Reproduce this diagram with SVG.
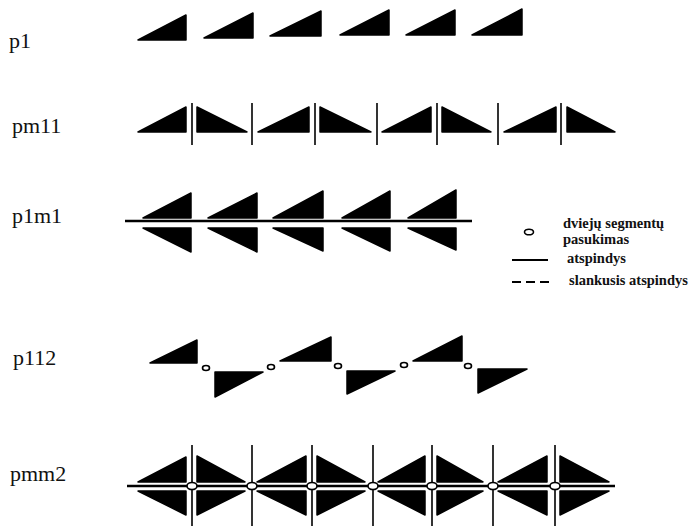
<svg xmlns="http://www.w3.org/2000/svg" width="692" height="526" viewBox="0 0 692 526">
<style>
.lbl{font-size:22px;fill:#111}
.leg{font-size:14.5px;font-weight:bold;fill:#111}
.t{fill:#000;stroke:#000;stroke-width:1.5;stroke-linejoin:round}
.m{stroke:#000;stroke-width:1.6;fill:none}
.h{stroke:#000;stroke-width:2.4;fill:none}
.lg{stroke:#000;stroke-width:2;fill:none}
.c{fill:#fff;stroke:#000;stroke-width:1.6}
</style>
<rect width="692" height="526" fill="#fff"/>

<g id="p1">
<text class="lbl" font-family="Liberation Serif, DejaVu Serif, serif" x="9" y="48">p1</text>
<polygon class="t" points="138,40 186,15 186,40"/>
<polygon class="t" points="204,38 253,13 253,38"/>
<polygon class="t" points="270,36 321,11 321,36"/>
<polygon class="t" points="340,35 389,10 389,35"/>
<polygon class="t" points="406,35 455,10 455,35"/>
<polygon class="t" points="472,35 522,9 522,35"/>
</g>

<g id="pm11">
<text class="lbl" font-family="Liberation Serif, DejaVu Serif, serif" x="12" y="133">pm11</text>
<polygon class="t" points="138,132 186,107 186,132"/>
<polygon class="t" points="197,107 247,132 197,132"/>
<polygon class="t" points="258,132 309,107 309,132"/>
<polygon class="t" points="320,107 371,132 320,132"/>
<polygon class="t" points="382,132 431,107 431,132"/>
<polygon class="t" points="442,107 491,132 442,132"/>
<polygon class="t" points="504,132 556,107 556,132"/>
<polygon class="t" points="567,107 615,132 567,132"/>
</g>

<g id="p1m1">
<text class="lbl" font-family="Liberation Serif, DejaVu Serif, serif" x="12" y="223">p1m1</text>
<polygon class="t" points="143,218 191,193 191,218"/>
<polygon class="t" points="208,218 257,193 257,218"/>
<polygon class="t" points="273,218 323,191 323,218"/>
<polygon class="t" points="342,218 390,191 390,218"/>
<polygon class="t" points="408,218 456,190 456,218"/>
<polygon class="t" points="143,228 191,228 191,252"/>
<polygon class="t" points="208,228 257,228 257,252"/>
<polygon class="t" points="273,228 323,228 323,251"/>
<polygon class="t" points="342,228 390,228 390,251"/>
<polygon class="t" points="408,228 456,228 456,250"/>
</g>

<g id="p112">
<text class="lbl" font-family="Liberation Serif, DejaVu Serif, serif" x="13" y="365">p112</text>
<polygon class="t" points="150,363 197,340 197,363"/>
<polygon class="t" points="215,372 263,372 215,397"/>
<polygon class="t" points="280,361 331,337 331,361"/>
<polygon class="t" points="347,371 395,371 347,394"/>
<polygon class="t" points="413,361 462,336 462,361"/>
<polygon class="t" points="478,369 527,369 478,393"/>
</g>

<g id="pmm2">
<text class="lbl" font-family="Liberation Serif, DejaVu Serif, serif" x="10" y="481">pmm2</text>
<polygon class="t" points="138,482 186,457 186,482"/>
<polygon class="t" points="257,482 306,456 306,482"/>
<polygon class="t" points="378,482 425,456 425,482"/>
<polygon class="t" points="498,482 547,456 547,482"/>
<polygon class="t" points="197,456 245,482 197,482"/>
<polygon class="t" points="317,456 365,482 317,482"/>
<polygon class="t" points="437,456 483,482 437,482"/>
<polygon class="t" points="560,456 609,482 560,482"/>
<polygon class="t" points="138,491 186,491 186,515"/>
<polygon class="t" points="257,491 306,491 306,515"/>
<polygon class="t" points="378,491 425,491 425,515"/>
<polygon class="t" points="498,491 547,491 547,515"/>
<polygon class="t" points="197,491 245,491 197,515"/>
<polygon class="t" points="317,491 365,491 317,515"/>
<polygon class="t" points="437,491 483,491 437,515"/>
<polygon class="t" points="560,491 609,491 560,515"/>
</g>

<g id="connectors">
<g id="pm11-mirrors">
<line class="m" x1="192" y1="103" x2="192" y2="145"/>
<line class="m" x1="252" y1="103" x2="252" y2="145"/>
<line class="m" x1="315" y1="103" x2="315" y2="145"/>
<line class="m" x1="377" y1="103" x2="377" y2="145"/>
<line class="m" x1="437" y1="103" x2="437" y2="145"/>
<line class="m" x1="498" y1="103" x2="498" y2="145"/>
<line class="m" x1="561" y1="103" x2="561" y2="145"/>
</g>
<line class="h" x1="125" y1="221" x2="472" y2="221"/>
<g id="p112-centres">
<ellipse class="c" cx="206" cy="368" rx="3.5" ry="2.5"/>
<ellipse class="c" cx="271" cy="367" rx="3.5" ry="2.5"/>
<ellipse class="c" cx="338" cy="366" rx="3.5" ry="2.5"/>
<ellipse class="c" cx="404" cy="365" rx="3.5" ry="2.5"/>
<ellipse class="c" cx="468" cy="366" rx="3.5" ry="2.5"/>
</g>
<g id="pmm2-mirrors">
<line class="h" x1="127" y1="486" x2="615" y2="486"/>
<line class="m" x1="192" y1="445" x2="192" y2="526"/>
<line class="m" x1="252" y1="445" x2="252" y2="526"/>
<line class="m" x1="312" y1="445" x2="312" y2="526"/>
<line class="m" x1="373" y1="445" x2="373" y2="526"/>
<line class="m" x1="432" y1="445" x2="432" y2="526"/>
<line class="m" x1="493" y1="445" x2="493" y2="526"/>
<line class="m" x1="555" y1="445" x2="555" y2="526"/>
<ellipse class="c" cx="192" cy="486" rx="5" ry="3.5"/>
<ellipse class="c" cx="252" cy="486" rx="5" ry="3.5"/>
<ellipse class="c" cx="312" cy="486" rx="5" ry="3.5"/>
<ellipse class="c" cx="373" cy="486" rx="5" ry="3.5"/>
<ellipse class="c" cx="432" cy="486" rx="5" ry="3.5"/>
<ellipse class="c" cx="493" cy="486" rx="5" ry="3.5"/>
<ellipse class="c" cx="555" cy="486" rx="5" ry="3.5"/>
</g>
</g>

<g id="legend">
<ellipse class="c" cx="529" cy="232" rx="4.5" ry="2.8"/>
<text class="leg" font-family="Liberation Serif, DejaVu Serif, serif" x="563" y="228">dviejų segmentų</text>
<text class="leg" font-family="Liberation Serif, DejaVu Serif, serif" x="563" y="244">pasukimas</text>
<line class="lg" x1="512" y1="260" x2="548" y2="260"/>
<text class="leg" font-family="Liberation Serif, DejaVu Serif, serif" x="567" y="263">atspindys</text>
<line class="lg" x1="512" y1="282" x2="550" y2="282" stroke-dasharray="9,5"/>
<text class="leg" font-family="Liberation Serif, DejaVu Serif, serif" x="569" y="285">slankusis atspindys</text>
</g>
</svg>
